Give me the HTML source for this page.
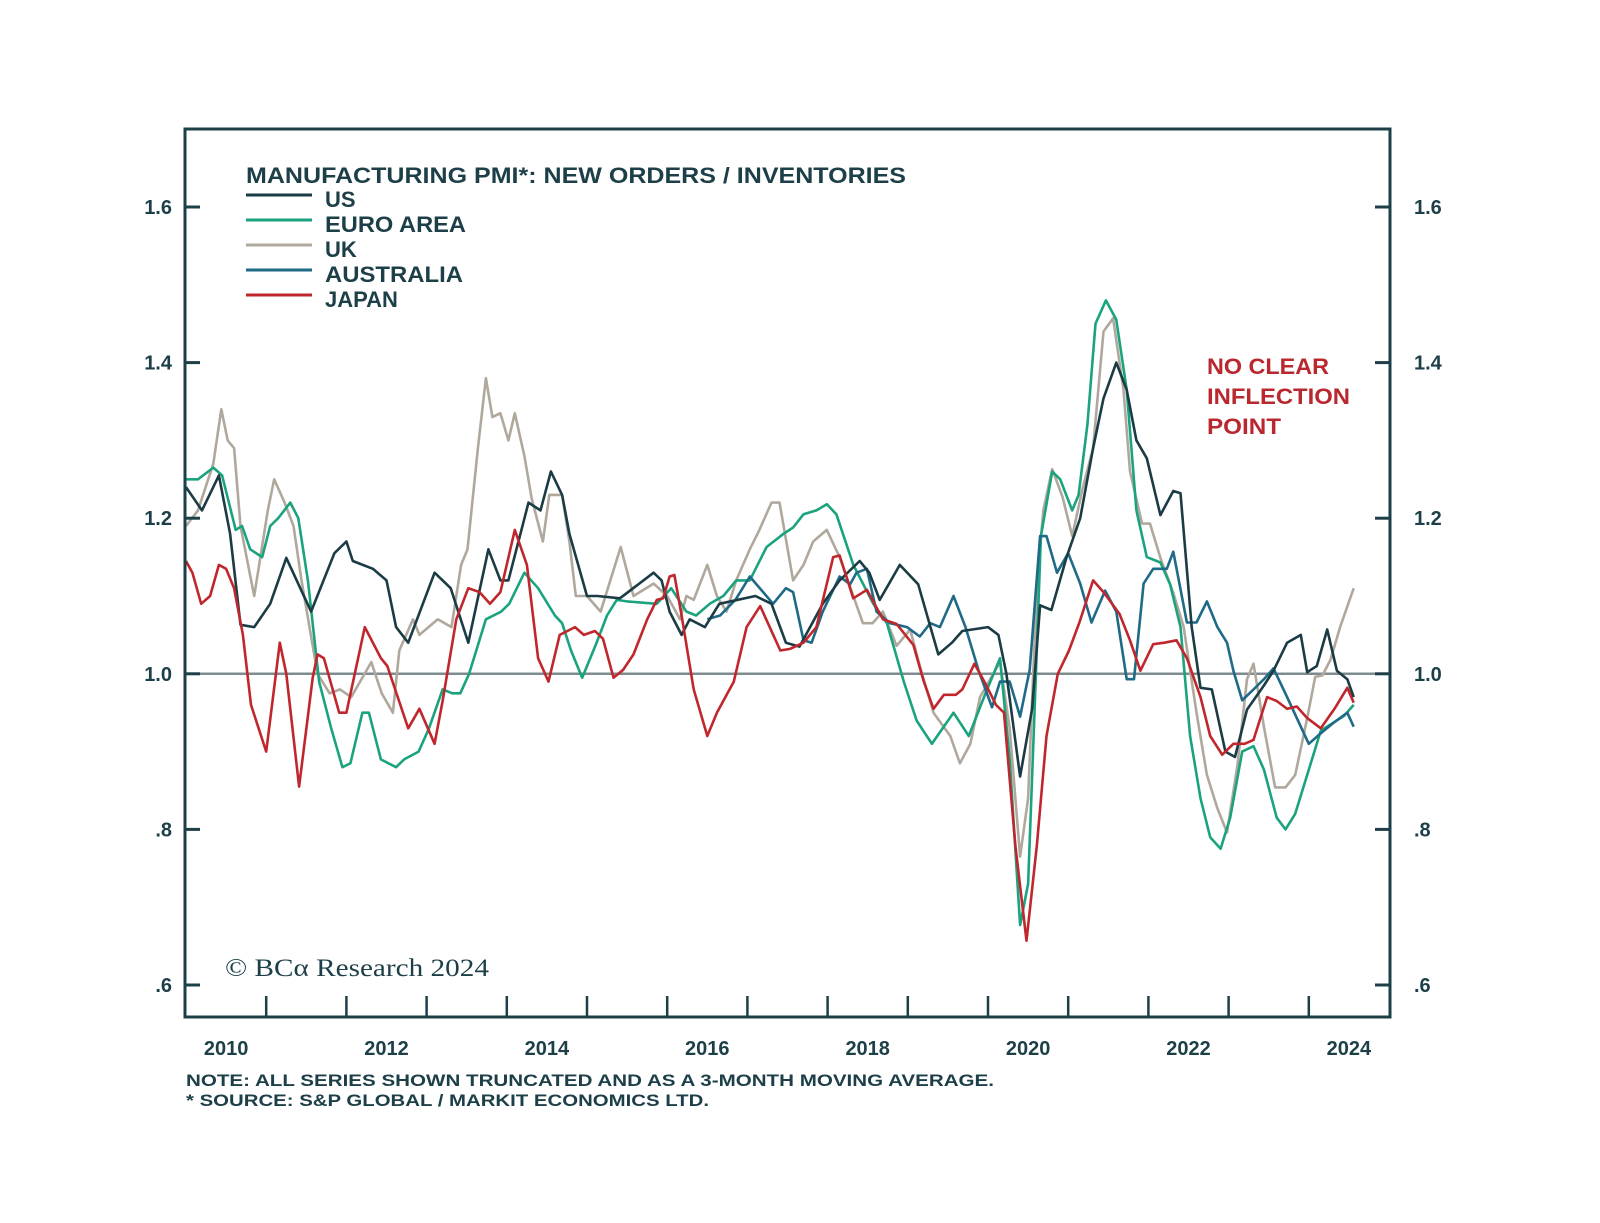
<!DOCTYPE html>
<html><head><meta charset="utf-8"><style>
html,body{margin:0;padding:0;background:#fff;}
svg{display:block;font-family:"Liberation Sans",sans-serif;}
</style></head><body>
<svg id="chart" width="1600" height="1223" viewBox="0 0 1600 1223" xmlns="http://www.w3.org/2000/svg">
<rect x="0" y="0" width="1600" height="1223" fill="#fff"/>
<g id="grid"></g>
<g id="series"></g>
<rect x="185" y="129" width="1205" height="888" fill="none" stroke="#1d3f48" stroke-width="3"/>
<g id="axes"></g>
<g font-weight="bold" fill="#1d3f48" font-size="22">
<text x="246" y="183" textLength="660" lengthAdjust="spacingAndGlyphs">MANUFACTURING PMI*: NEW ORDERS / INVENTORIES</text>
<line x1="246" y1="195" x2="312" y2="195" stroke="#1b3c45" stroke-width="3"/>
<text x="325" y="207">US</text>
<line x1="246" y1="220" x2="312" y2="220" stroke="#1aa37e" stroke-width="3"/>
<text x="325" y="232" textLength="141" lengthAdjust="spacingAndGlyphs">EURO AREA</text>
<line x1="246" y1="245" x2="312" y2="245" stroke="#b0a89c" stroke-width="3"/>
<text x="325" y="257">UK</text>
<line x1="246" y1="270" x2="312" y2="270" stroke="#1f6a86" stroke-width="3"/>
<text x="325" y="282" textLength="138" lengthAdjust="spacingAndGlyphs">AUSTRALIA</text>
<line x1="246" y1="295" x2="312" y2="295" stroke="#c0272d" stroke-width="3"/>
<text x="325" y="307">JAPAN</text>
</g>
<g fill="#b8282e" font-weight="bold" font-size="22">
<text x="1207" y="374" textLength="122" lengthAdjust="spacingAndGlyphs">NO CLEAR</text>
<text x="1207" y="404" textLength="143" lengthAdjust="spacingAndGlyphs">INFLECTION</text>
<text x="1207" y="434" textLength="74" lengthAdjust="spacingAndGlyphs">POINT</text>
</g>
<text x="225" y="976" font-family="'Liberation Serif',serif" font-size="25" fill="#1d3f48" textLength="264" lengthAdjust="spacingAndGlyphs">© BCα Research 2024</text>
<g fill="#1d3f48" font-weight="bold" font-size="17">
<text x="186" y="1086" textLength="808" lengthAdjust="spacingAndGlyphs">NOTE: ALL SERIES SHOWN TRUNCATED AND AS A 3-MONTH MOVING AVERAGE.</text>
<text x="186" y="1106" textLength="523" lengthAdjust="spacingAndGlyphs">* SOURCE: S&amp;P GLOBAL / MARKIT ECONOMICS LTD.</text>
</g>
</svg>
<script>
const yTicks=[0.6,0.8,1.0,1.2,1.4,1.6];
const yTickLabels=[".6",".8","1.0","1.2","1.4","1.6"];
const years=[2010,2011,2012,2013,2014,2015,2016,2017,2018,2019,2020,2021,2022,2023,2024];
const yearLabels=["2010","2012","2014","2016","2018","2020","2022","2024"];

const tUS=[2010.0,2010.2,2010.41,2010.55,2010.68,2010.85,2011.05,2011.25,2011.56,2011.85,2012.0,2012.08,2012.33,2012.5,2012.62,2012.77,2013.1,2013.3,2013.52,2013.77,2013.92,2014.02,2014.27,2014.42,2014.55,2014.69,2014.78,2015.0,2015.13,2015.41,2015.83,2015.93,2016.03,2016.18,2016.28,2016.47,2016.65,2017.1,2017.3,2017.48,2017.65,2017.94,2018.15,2018.4,2018.52,2018.65,2018.9,2019.13,2019.38,2019.55,2019.68,2020.0,2020.13,2020.23,2020.4,2020.55,2020.65,2020.79,2020.98,2021.15,2021.31,2021.44,2021.6,2021.73,2021.85,2021.98,2022.15,2022.31,2022.4,2022.54,2022.65,2022.79,2022.96,2023.08,2023.23,2023.44,2023.56,2023.73,2023.9,2023.98,2024.1,2024.23,2024.35,2024.48,2024.56];
const vUS=[1.24,1.21,1.255,1.18,1.063,1.06,1.09,1.149,1.08,1.155,1.17,1.145,1.135,1.12,1.06,1.04,1.13,1.11,1.04,1.16,1.12,1.12,1.22,1.21,1.26,1.23,1.18,1.10,1.10,1.097,1.13,1.12,1.08,1.05,1.07,1.06,1.09,1.10,1.09,1.04,1.035,1.09,1.12,1.145,1.13,1.095,1.14,1.115,1.025,1.04,1.055,1.06,1.05,1.00,0.868,0.955,1.088,1.082,1.15,1.20,1.29,1.354,1.40,1.365,1.30,1.277,1.204,1.235,1.232,1.06,0.982,0.98,0.90,0.893,0.954,0.985,1.004,1.04,1.05,1.002,1.01,1.057,1.004,0.993,0.97];

const tEU=[2010.0,2010.15,2010.34,2010.45,2010.62,2010.7,2010.8,2010.95,2011.05,2011.15,2011.3,2011.4,2011.52,2011.66,2011.81,2011.95,2012.05,2012.2,2012.28,2012.43,2012.62,2012.72,2012.9,2013.03,2013.2,2013.32,2013.42,2013.53,2013.74,2013.93,2014.03,2014.22,2014.39,2014.6,2014.69,2014.8,2014.94,2015.12,2015.25,2015.37,2015.5,2015.87,2016.05,2016.24,2016.36,2016.53,2016.7,2016.86,2017.03,2017.24,2017.45,2017.57,2017.7,2017.86,2017.99,2018.11,2018.32,2018.57,2018.74,2018.95,2019.11,2019.3,2019.57,2019.76,2019.95,2020.15,2020.27,2020.4,2020.5,2020.58,2020.66,2020.8,2020.9,2021.05,2021.13,2021.24,2021.34,2021.47,2021.6,2021.73,2021.85,2021.98,2022.15,2022.27,2022.4,2022.52,2022.65,2022.77,2022.9,2023.02,2023.17,2023.31,2023.44,2023.6,2023.71,2023.83,2023.98,2024.15,2024.32,2024.44,2024.56];
const vEU=[1.25,1.25,1.265,1.255,1.185,1.19,1.16,1.15,1.19,1.20,1.22,1.20,1.12,0.99,0.93,0.88,0.885,0.95,0.95,0.89,0.88,0.89,0.90,0.93,0.98,0.975,0.975,1.0,1.07,1.08,1.09,1.13,1.11,1.075,1.065,1.03,0.995,1.04,1.075,1.095,1.093,1.09,1.11,1.08,1.075,1.09,1.10,1.12,1.12,1.163,1.18,1.188,1.205,1.21,1.218,1.205,1.14,1.09,1.065,0.99,0.94,0.91,0.95,0.92,0.97,1.02,0.89,0.677,0.73,0.95,1.177,1.26,1.25,1.21,1.23,1.32,1.45,1.48,1.455,1.365,1.21,1.15,1.143,1.115,1.06,0.92,0.84,0.79,0.775,0.815,0.90,0.907,0.877,0.815,0.80,0.82,0.87,0.927,0.938,0.946,0.96];

const tUK=[2010.0,2010.15,2010.34,2010.44,2010.52,2010.6,2010.68,2010.85,2011.02,2011.1,2011.23,2011.34,2011.44,2011.64,2011.79,2011.92,2012.06,2012.31,2012.44,2012.58,2012.66,2012.83,2012.91,2013.14,2013.31,2013.43,2013.51,2013.64,2013.74,2013.82,2013.92,2014.02,2014.1,2014.22,2014.31,2014.45,2014.53,2014.69,2014.78,2014.86,2015.0,2015.17,2015.42,2015.58,2015.83,2016.0,2016.16,2016.24,2016.33,2016.5,2016.62,2016.74,2016.86,2017.03,2017.15,2017.3,2017.4,2017.57,2017.7,2017.82,2017.99,2018.15,2018.32,2018.44,2018.56,2018.69,2018.86,2019.03,2019.15,2019.32,2019.53,2019.65,2019.78,2019.9,2020.15,2020.27,2020.4,2020.5,2020.61,2020.69,2020.8,2020.93,2021.05,2021.18,2021.31,2021.44,2021.56,2021.69,2021.77,2021.92,2022.02,2022.15,2022.31,2022.44,2022.6,2022.73,2022.86,2022.98,2023.11,2023.23,2023.31,2023.44,2023.58,2023.71,2023.83,2023.98,2024.08,2024.17,2024.27,2024.39,2024.56];
const vUK=[1.19,1.21,1.27,1.34,1.30,1.29,1.19,1.10,1.21,1.25,1.22,1.19,1.12,1.0,0.975,0.98,0.97,1.015,0.975,0.95,1.03,1.07,1.05,1.07,1.06,1.14,1.16,1.29,1.38,1.33,1.335,1.30,1.335,1.28,1.225,1.17,1.23,1.23,1.17,1.10,1.10,1.08,1.163,1.10,1.116,1.10,1.07,1.10,1.095,1.14,1.10,1.08,1.12,1.16,1.185,1.22,1.22,1.12,1.14,1.17,1.185,1.15,1.10,1.065,1.065,1.08,1.036,1.057,1.01,0.95,0.92,0.885,0.91,0.97,1.015,0.93,0.765,0.84,1.115,1.21,1.263,1.227,1.177,1.238,1.29,1.44,1.457,1.365,1.26,1.193,1.193,1.149,1.104,1.06,0.95,0.87,0.827,0.796,0.882,0.993,1.013,0.932,0.854,0.854,0.87,0.943,0.996,0.998,1.018,1.06,1.11];

const tAU=[2016.5,2016.66,2016.85,2017.03,2017.32,2017.48,2017.57,2017.7,2017.8,2017.94,2018.15,2018.28,2018.36,2018.49,2018.61,2018.78,2018.99,2019.15,2019.28,2019.4,2019.57,2019.72,2019.88,2020.05,2020.15,2020.27,2020.4,2020.52,2020.65,2020.73,2020.86,2021.0,2021.15,2021.29,2021.46,2021.6,2021.73,2021.82,2021.94,2022.06,2022.23,2022.31,2022.48,2022.6,2022.73,2022.86,2022.98,2023.06,2023.17,2023.31,2023.44,2023.56,2023.73,2023.9,2024.0,2024.12,2024.32,2024.48,2024.56];
const vAU=[1.07,1.075,1.095,1.125,1.09,1.11,1.105,1.043,1.04,1.08,1.125,1.115,1.13,1.135,1.08,1.065,1.06,1.048,1.065,1.06,1.10,1.06,1.005,0.957,0.99,0.99,0.945,1.005,1.177,1.177,1.13,1.155,1.116,1.066,1.107,1.08,0.993,0.993,1.116,1.135,1.135,1.157,1.066,1.066,1.093,1.06,1.04,1.004,0.966,0.98,0.993,1.007,0.97,0.932,0.91,0.921,0.938,0.95,0.932];

const tJP=[2010.0,2010.08,2010.19,2010.3,2010.41,2010.5,2010.6,2010.71,2010.81,2011.0,2011.17,2011.25,2011.41,2011.58,2011.64,2011.72,2011.91,2012.0,2012.23,2012.43,2012.51,2012.77,2012.91,2013.1,2013.2,2013.37,2013.52,2013.66,2013.79,2013.92,2014.1,2014.25,2014.39,2014.52,2014.66,2014.85,2014.96,2015.1,2015.2,2015.33,2015.45,2015.58,2015.75,2015.87,2015.95,2016.03,2016.09,2016.18,2016.33,2016.5,2016.62,2016.83,2016.99,2017.16,2017.41,2017.53,2017.7,2017.86,2018.07,2018.15,2018.32,2018.49,2018.69,2018.86,2019.07,2019.2,2019.32,2019.45,2019.6,2019.68,2019.83,2019.97,2020.1,2020.2,2020.34,2020.48,2020.61,2020.73,2020.87,2021.01,2021.14,2021.31,2021.44,2021.64,2021.77,2021.9,2022.06,2022.2,2022.35,2022.48,2022.65,2022.77,2022.92,2023.06,2023.2,2023.31,2023.48,2023.6,2023.73,2023.85,2023.98,2024.15,2024.32,2024.48,2024.56];
const vJP=[1.145,1.13,1.09,1.10,1.14,1.135,1.11,1.05,0.96,0.90,1.04,1.0,0.855,0.995,1.025,1.02,0.95,0.95,1.06,1.02,1.01,0.93,0.955,0.91,0.965,1.07,1.11,1.105,1.09,1.105,1.185,1.14,1.02,0.99,1.05,1.06,1.05,1.055,1.045,0.995,1.005,1.025,1.07,1.095,1.097,1.125,1.127,1.075,0.98,0.92,0.95,0.99,1.06,1.087,1.03,1.032,1.04,1.06,1.15,1.152,1.097,1.108,1.07,1.064,1.037,0.99,0.955,0.973,0.973,0.98,1.013,0.987,0.96,0.95,0.78,0.657,0.78,0.92,1.0,1.03,1.066,1.12,1.105,1.077,1.043,1.004,1.038,1.04,1.043,1.02,0.97,0.92,0.896,0.91,0.91,0.915,0.97,0.965,0.955,0.958,0.943,0.93,0.955,0.982,0.963];

const NS="http://www.w3.org/2000/svg";
const X0=186, XPY=80.2, YB=985, YPU=778;
function xs(t){return X0+(t-2010)*XPY;}
function ys(v){return YB-(v-0.6)*YPU;}
function mk(tag,attrs,parent){const e=document.createElementNS(NS,tag);for(const k in attrs)e.setAttribute(k,attrs[k]);parent.appendChild(e);return e;}

const grid=document.getElementById('grid');
const zl=mk('line',{x1:185,x2:1390,y1:ys(1.0),y2:ys(1.0),stroke:'#7f8c8f','stroke-width':2.5},grid);



const axes=document.getElementById('axes');
yTicks.forEach((v,i)=>{
  const y=ys(v);
  const tl=mk('line',{x1:185,x2:200,y1:y,y2:y,stroke:'#1d3f48','stroke-width':3},axes);
  
  
  const tr=mk('line',{x1:1375,x2:1390,y1:y,y2:y,stroke:'#1d3f48','stroke-width':3},axes);
  
  
  const a=mk('text',{x:172,y:y+7,'text-anchor':'end','font-size':20,'font-weight':'bold',fill:'#1d3f48'},axes);
  a.textContent=yTickLabels[i];
  
  
  const b=mk('text',{x:1414,y:y+7,'text-anchor':'start','font-size':20,'font-weight':'bold',fill:'#1d3f48'},axes);
  b.textContent=yTickLabels[i];
  
  
});
years.forEach(yr=>{
  if(yr===2010)return;
  const x=xs(yr);
  const t=mk('line',{x1:x,x2:x,y1:996,y2:1017,stroke:'#1d3f48','stroke-width':2.5},axes);
  
  
});
yearLabels.forEach(l=>{
  const x=xs(+l+0.5);
  const t=mk('text',{x:x,y:1055,'text-anchor':'middle','font-size':20,'font-weight':'bold',fill:'#1d3f48'},axes);
  t.textContent=l;
  
  
});

const ser=document.getElementById('series');
function draw(ts,vs,color,name){
  const d=ts.map((t,i)=>(i?'L':'M')+xs(t).toFixed(1)+','+ys(vs[i]).toFixed(1)).join('');
  const p=mk('path',{d:d,fill:'none',stroke:color,'stroke-width':2.6,'stroke-linejoin':'round'},ser);
  
  
}
draw(tUK,vUK,'#b0a89c','uk-line');
draw(tEU,vEU,'#1aa37e','euro-area-line');
draw(tAU,vAU,'#1f6a86','australia-line');
draw(tUS,vUS,'#1b3c45','us-line');
draw(tJP,vJP,'#c0272d','japan-line');
</script>
</body></html>
